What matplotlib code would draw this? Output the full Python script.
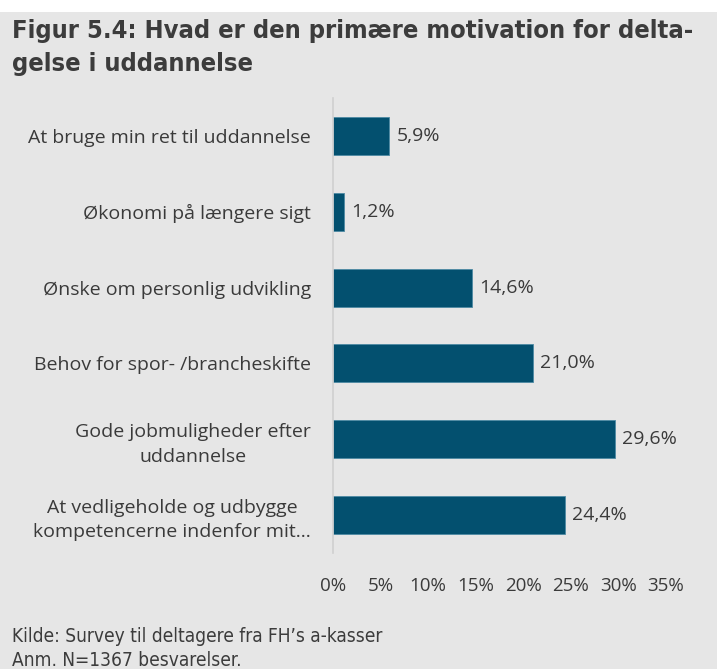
import matplotlib
matplotlib.use("Agg")
import matplotlib.pyplot as plt
from matplotlib.patches import Rectangle

# data (top to bottom as in the chart)
categories = [
    "At bruge min ret til uddannelse",
    "Økonomi på længere sigt",
    "Ønske om personlig udvikling",
    "Behov for spor- /brancheskifte",
    "Gode jobmuligheder efter\nuddannelse",
    "At vedligeholde og udbygge\nkompetencerne indenfor mit...",
]
values = [5.9, 1.2, 14.6, 21.0, 29.6, 24.4]
xticks = [0, 5, 10, 15, 20, 25, 30, 35]

bg = "#e6e6e6"
bar_col = "#03506f"
txt = "#3a3a3a"

W, H = 721, 669
fig = plt.figure(figsize=(W / 100, H / 100), dpi=100)
fig.patch.set_facecolor("white")
fig.patches.append(Rectangle((0, 0), 717 / W, (H - 12) / H, transform=fig.transFigure,
                             facecolor=bg, edgecolor="none", zorder=-10))

ax = fig.add_axes([333 / W, 1 - 553 / H, 333 / W, 455 / H])
ax.set_facecolor("none")

y = list(range(len(categories)))
ax.barh(y, values, height=0.5, color=bar_col, edgecolor="#4d8aa3", linewidth=0.6)
for yi, v in zip(y, values):
    ax.text(v + 0.75, yi, f"{v:.1f}".replace(".", ",") + "%", va="center", ha="left",
            fontsize=14, color=txt, family="Open Sans")

ax.set_ylim(len(categories) - 0.5, -0.5)
ax.set_xlim(0, 35)
ax.set_yticks(y)
ax.set_yticklabels(categories, fontsize=14, color=txt, family="Open Sans",
                   ha="right", multialignment="center", linespacing=1.45)
ax.tick_params(axis="y", length=0, pad=16)
ax.set_xticks(xticks)
ax.set_xticklabels([f"{t}%" for t in xticks], fontsize=13.5, color=txt, family="Open Sans")
ax.tick_params(axis="x", length=0, pad=17)
for s in ["top", "right", "bottom"]:
    ax.spines[s].set_visible(False)
ax.spines["left"].set_color("#d0d0d0")
ax.spines["left"].set_linewidth(1.2)

fig.text(12 / W, 1 - 19 / H, "Figur 5.4: Hvad er den primære motivation for delta-\ngelse i uddannelse",
         fontsize=18.3, fontweight="bold", color="#3c3c3c", va="top", ha="left",
         family="DejaVu Sans", fontstretch="condensed", linespacing=1.5)

fig.text(12 / W, 1 - 627 / H, "Kilde: Survey til deltagere fra FH\u2019s a-kasser\nAnm. N=1367 besvarelser.",
         fontsize=13.7, color="#3c3c3c", va="top", ha="left", family="DejaVu Sans",
         fontstretch="condensed", linespacing=1.3)

fig.savefig("out.png", dpi=100)
